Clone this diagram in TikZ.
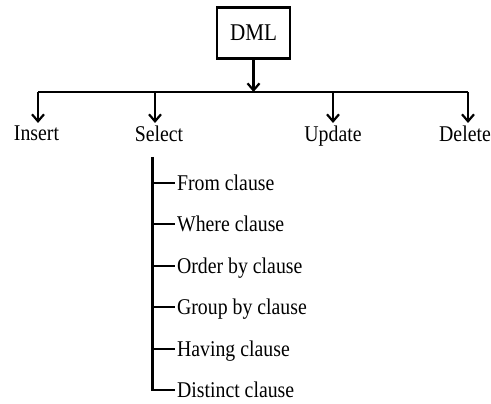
\documentclass[tikz,border=0pt]{standalone}
\usepackage{fontspec}
\setmainfont{Liberation Serif}[FakeStretch=0.88]
\usetikzlibrary{arrows.meta}

\begin{document}
\begin{tikzpicture}[
        x=1pt, y=-1pt,
        line width=2.2pt,
        topbox/.style={draw, line width=2.2pt, minimum width=73pt, minimum height=51pt,
            inner sep=0pt, font=\fontsize{24}{28}\selectfont},
        opnode/.style={anchor=north, inner sep=2pt, font=\fontsize{22.5}{26}\selectfont},
        clausenode/.style={anchor=base west, inner sep=1pt, font=\fontsize{22.5}{26}\selectfont},
        >={Straight Barb[length=7pt, width=12pt]}]

        \useasboundingbox (0,0) rectangle (491,404);

        % --- root ---
        \node[topbox] (dml) at (253.5,33) {DML};

        % --- bus line ---
        \coordinate (busL) at (38,92);
        \coordinate (busR) at (468,92);
        \draw (busL) -- (busR);
        \draw[->] (dml.south) -- (dml.south |- busL);

        % --- operations ---
        \node[opnode] (insert) at (36.5,123) {Insert};
        \node[opnode] (select) at (159,123) {Select};
        \node[opnode] (update) at (333,123) {Update};
        \node[opnode] (delete) at (465,123) {Delete};

        \coordinate (bIns) at (38,92);
        \coordinate (bSel) at (155,92);
        \coordinate (bUpd) at (333,92);
        \coordinate (bDel) at (468,92);
        \draw[->] (bIns) -- (bIns |- insert.north);
        \draw[->] (bSel) -- (bSel |- select.north);
        \draw[->] (bUpd) -- (bUpd |- update.north);
        \draw[->] (bDel) -- (bDel |- delete.north);

        % --- clauses of Select ---
        \coordinate (trunk) at (152.5,157);
        \foreach \txt [count=\i, evaluate=\i as \yy using 183+(\i-1)*41.4] in
            {From clause, Where clause, Order by clause, Group by clause, Having clause, Distinct clause}
        {
            \coordinate (t\i) at (152.5,\yy);
            \node[clausenode] (c\i) at (175,\yy+7.5) {\txt};
            \draw (t\i) -- (t\i -| c\i.west);
        }
        \draw[line join=miter] (trunk) -- (t6) -- (t6 -| c6.west);

    \end{tikzpicture}
\end{document}
